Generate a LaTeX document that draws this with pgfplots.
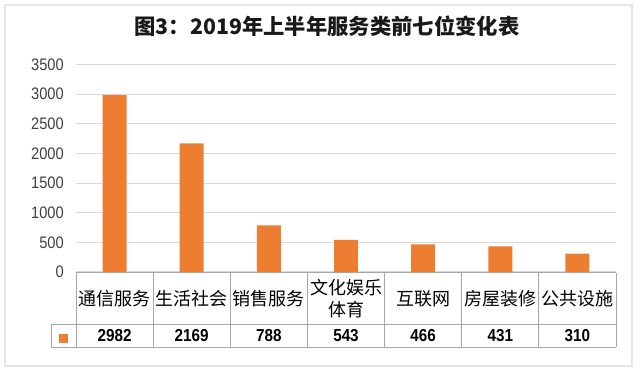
\documentclass[border=0pt]{standalone}
\usepackage{pgfplots}
\pgfplotsset{compat=1.18}
\usepackage{fontspec}
\setmainfont{Liberation Sans}
\newfontfamily\cjk{Noto Sans CJK SC}
\newfontfamily\numfont[FakeStretch=0.88]{Liberation Sans}
\definecolor{barorange}{HTML}{ED7D31}
\definecolor{gridgray}{HTML}{D9D9D9}
\definecolor{tabgray}{HTML}{A6A6A6}
\definecolor{ticktext}{HTML}{404040}
\begin{document}
\begin{tikzpicture}
\path[use as bounding box] (0,0) rectangle (480pt,279pt);
\begin{axis}[
  at={(57pt,75pt)}, anchor=south west,
  scale only axis, width=405pt, height=155.6pt,
  xmin=-0.5, xmax=6.5, ymin=0, ymax=3500,
  ytick={0,500,...,3500},
  xtick=\empty,
  ymajorgrids, grid style={gridgray, line width=0.75pt},
  axis line style={draw=none},
  major tick length=0pt,
  yticklabel style={anchor=east, inner sep=0pt, xshift=-9pt, font=\numfont\fontsize{12.5}{12.5}\selectfont, text=ticktext},
  /pgf/number format/assume math mode=true,
  /pgf/number format/1000 sep={},
  clip=false,
]
\addplot[ybar, bar width=18pt, fill=barorange, draw=none] coordinates {
  (0,2982) (1,2169) (2,788) (3,543) (4,466) (5,431) (6,310)
};
\end{axis}
\begin{scope}[x=0.75pt, y=-0.75pt, yshift=279pt]
  % frame
  \draw[black!10, line width=1pt] (5,5) rectangle (632,366);
  % title
  \node[font=\cjk\bfseries\fontsize{16}{16}\selectfont, text=black!90] at (327,26) {图3：2019年上半年服务类前七位变化表};
  % table
  \draw[tabgray, line width=0.75pt] (76,273) -- (616,273);
  \draw[tabgray, line width=0.75pt] (51,324) -- (616,324);
  \draw[tabgray, line width=0.75pt] (51,347) -- (616,347);
  \draw[tabgray, line width=0.75pt] (51,324) -- (51,347);
  \foreach \k in {0,...,7} {
    \draw[tabgray, line width=0.75pt] ({76+77.143*\k},273) -- ({76+77.143*\k},347);
  }
  \fill[barorange] (58.5,333.5) rectangle (67.5,342.5);
  \foreach \lab [count=\i from 0] in {通信服务,生活社会,销售服务,{文化娱乐\\体育},互联网,房屋装修,公共设施} {
    \node[font=\cjk\fontsize{13.5}{16.5}\selectfont, align=center, inner sep=0pt] at ({76+77.143*(\i+0.5)},298.5) {\lab};
  }
  \foreach \v [count=\i from 0] in {2982,2169,788,543,466,431,310} {
    \node[font=\numfont\bfseries\fontsize{13}{13}\selectfont, inner sep=0pt] at ({76+77.143*(\i+0.5)},336) {\v};
  }
\end{scope}
\end{tikzpicture}
\end{document}
